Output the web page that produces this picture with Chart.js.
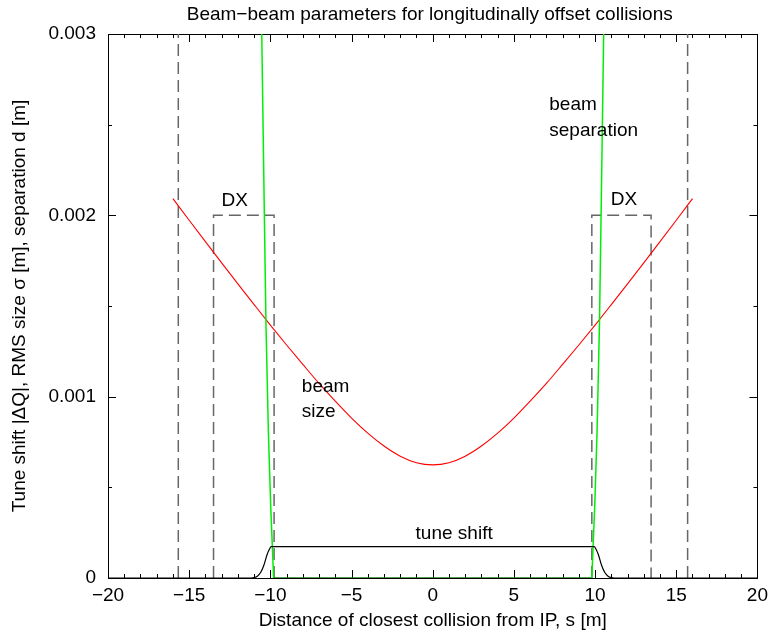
<!DOCTYPE html>
<html>
<head>
<meta charset="utf-8">
<title>Beam-beam parameters</title>
<script src="https://cdn.jsdelivr.net/npm/chart.js@4"></script>
<style>
  html, body { margin: 0; padding: 0; background: #fff; }
  canvas { display: block; }
</style>
</head>
<body>
<canvas id="bbChart" width="774" height="636"></canvas>
<script>
// Beam size (RMS sigma) vs. s
const sizeS = [-16, -15, -14, -13, -12, -11, -10, -9, -8, -7, -6, -5, -4, -3, -2, -1, 0,
  1, 2, 3, 4, 5, 6, 7, 8, 9, 10, 11, 12, 13, 14, 15, 16];
const sizeVals = [0.002092, 0.001973, 0.001855, 0.001738, 0.001622, 0.001508, 0.001395,
  0.001285, 0.001178, 0.001073, 0.000975, 0.000882, 0.000799, 0.000728, 0.000672, 0.000636,
  0.000624, 0.000636, 0.000672, 0.000728, 0.000799, 0.000882, 0.000975, 0.001073, 0.001178,
  0.001285, 0.001395, 0.001508, 0.001622, 0.001738, 0.001855, 0.001973, 0.002092];

// Beam separation d vs. s
const sepS = [-10.62, -10.53, -10.45, -10.37, -10.27, -10.12, -9.98, -9.8,
  9.8, 9.98, 10.12, 10.27, 10.37, 10.45, 10.53, 10.62];
const sepVals = [0.0035, 0.003, 0.0025, 0.002, 0.0014, 0.0008, 0.0004, 0,
  0, 0.0004, 0.0008, 0.0014, 0.002, 0.0025, 0.003, 0.0035];

// Tune shift |dQ| vs. s
const tuneS = [-20, -11.2, -11.0, -10.8, -10.6, -10.4, -10.2, -10.05, -9.95,
  9.95, 10.05, 10.2, 10.4, 10.6, 10.8, 11.0, 11.2, 20];
const tuneVals = [0, 0, 0.000002, 0.00001, 0.00003, 0.00007, 0.00013, 0.00016, 0.000173,
  0.000173, 0.00016, 0.00013, 0.00007, 0.00003, 0.00001, 0.000002, 0, 0];

// DX magnet outlines and outer markers (dashed)
const dxLeftS = [-13.5, -13.5, -9.77, -9.77];
const dxRightS = [9.8, 9.8, 13.45, 13.45];
const dxVals = [0, 0.002, 0.002, 0];
const outerLeftS = [-15.67, -15.67];
const outerRightS = [15.7, 15.7];
const outerVals = [0, 0.003];

// Axis ticks
const xTicks = [-20, -15, -10, -5, 0, 5, 10, 15, 20];
const yTicks = [0, 0.001, 0.002, 0.003];

// Text labels in the plot (text, s, value, alignment)
const notes = [
  ['DX', -12.2, 0.002051, 'center'],
  ['DX', 11.78, 0.002057, 'center'],
  ['beam', 7.18, 0.002581, 'left'],
  ['separation', 7.18, 0.002438, 'left'],
  ['beam', -8.06, 0.001024, 'left'],
  ['size', -8.06, 0.000890, 'left'],
  ['tune shift', 1.32, 0.000213, 'center']
];

const FONT = '"Liberation Sans", Arial, Helvetica, sans-serif';
Chart.defaults.font.family = FONT;
Chart.defaults.font.size = 19;
Chart.defaults.color = '#000';

function toPoints(xs, ys) {
  return xs.map((x, i) => ({ x: x, y: ys[i] }));
}

const dashStyle = {
  borderColor: '#666666',
  borderWidth: 1.5,
  borderDash: [12, 6],
  pointRadius: 0,
  order: 5
};

// Frame with inward ticks on all four sides, gnuplot style
const framePlugin = {
  id: 'frame',
  beforeDatasetsDraw(chart) {
    const { ctx, chartArea: a, scales: { x, y } } = chart;
    ctx.save();
    ctx.strokeStyle = '#000';
    ctx.lineWidth = 1;
    ctx.beginPath();
    for (let v = -20; v <= 20; v++) {
      const px = Math.round(x.getPixelForValue(v)) + 0.5;
      const len = v % 5 === 0 ? 8 : 4;
      ctx.moveTo(px, a.bottom); ctx.lineTo(px, a.bottom - len);
      ctx.moveTo(px, a.top); ctx.lineTo(px, a.top + len);
    }
    for (let k = 0; k <= 6; k++) {
      const py = Math.round(y.getPixelForValue(k * 0.0005)) + 0.5;
      const len = k % 2 === 0 ? 8 : 4;
      ctx.moveTo(a.left, py); ctx.lineTo(a.left + len, py);
      ctx.moveTo(a.right, py); ctx.lineTo(a.right - len, py);
    }
    ctx.stroke();
    ctx.strokeRect(Math.round(a.left) + 0.5, Math.round(a.top) + 0.5,
      Math.round(a.right - a.left), Math.round(a.bottom - a.top));
    ctx.restore();
  },
  afterDraw(chart) {
    const { ctx, chartArea: a, scales: { x, y } } = chart;
    ctx.save();
    ctx.fillStyle = '#000';
    ctx.font = '19px ' + FONT;
    ctx.textBaseline = 'alphabetic';
    // title
    ctx.textAlign = 'center';
    ctx.fillText('Beam\u2212beam parameters for longitudinally offset collisions',
      (a.left + a.right) / 2 - 3, 20);
    notes.forEach(([text, s, v, align]) => {
      ctx.textAlign = align;
      ctx.fillText(text, x.getPixelForValue(s), y.getPixelForValue(v));
    });
    ctx.restore();
  }
};

const ctx = document.getElementById('bbChart').getContext('2d');
new Chart(ctx, {
  type: 'line',
  data: {
    datasets: [
      {
        data: toPoints(tuneS, tuneVals),
        borderColor: '#000',
        borderWidth: 1.2,
        pointRadius: 0,
        cubicInterpolationMode: 'monotone',
        order: 1
      },
      {
        data: toPoints(sepS, sepVals),
        borderColor: '#00ee00',
        borderWidth: 1.5,
        pointRadius: 0,
        segment: {
          borderColor: c => (c.p0.parsed.y === 0 && c.p1.parsed.y === 0) ? '#1a7a1a' : undefined
        },
        order: 2
      },
      {
        data: toPoints(sizeS, sizeVals),
        borderColor: '#ff0000',
        borderWidth: 1.1,
        pointRadius: 0,
        cubicInterpolationMode: 'monotone',
        order: 3
      },
      Object.assign({ data: toPoints(dxLeftS, dxVals) }, dashStyle),
      Object.assign({ data: toPoints(dxRightS, dxVals) }, dashStyle),
      Object.assign({ data: toPoints(outerLeftS, outerVals) }, dashStyle),
      Object.assign({ data: toPoints(outerRightS, outerVals) }, dashStyle)
    ]
  },
  options: {
    responsive: false,
    animation: false,
    layout: { padding: { top: 34, right: 14, bottom: 0, left: 0 } },
    plugins: {
      legend: { display: false },
      tooltip: { enabled: false },
      title: { display: false }
    },
    scales: {
      x: {
        type: 'linear',
        min: -20,
        max: 20,
        afterFit: s => { s.height = 58; },
        afterBuildTicks: s => { s.ticks = xTicks.map(v => ({ value: v })); },
        grid: { display: false, drawTicks: false },
        border: { display: false },
        ticks: {
          padding: 6,
          maxRotation: 0,
          autoSkip: false,
          callback: v => String(v).replace('-', '\u2212')
        },
        title: {
          display: true,
          text: 'Distance of closest collision from IP, s [m]',
          padding: { top: 0, bottom: 4 }
        }
      },
      y: {
        type: 'linear',
        min: 0,
        max: 0.003,
        afterFit: s => { s.width = 108; },
        afterBuildTicks: s => { s.ticks = yTicks.map(v => ({ value: v })); },
        grid: { display: false, drawTicks: false },
        border: { display: false },
        ticks: {
          padding: 12,
          autoSkip: false,
          callback: v => v === 0 ? '0' : v.toFixed(3)
        },
        title: {
          display: true,
          text: 'Tune shift |\u0394Q|, RMS size \u03c3 [m], separation d [m]',
          padding: { top: 8, bottom: 0 }
        }
      }
    }
  },
  plugins: [framePlugin]
});
</script>
</body>
</html>
